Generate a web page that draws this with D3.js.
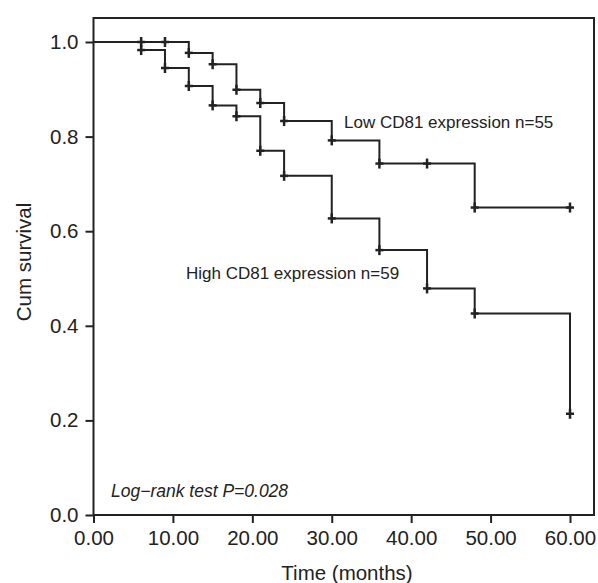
<!DOCTYPE html>
<html>
<head>
<meta charset="utf-8">
<script src="https://cdn.jsdelivr.net/npm/d3@7"></script>
<style>
  body { margin: 0; background: #fff; }
  text { font-family: "Liberation Sans", Arial, sans-serif; fill: #222; }
</style>
</head>
<body>
<div id="chart"></div>
<script>
var ink = "#222";

// Low CD81 expression (upper curve)
var lowTimes = [0, 12, 15, 18, 21, 24, 30, 36, 48, 60];
var lowSurv = [1.0, 0.977, 0.953, 0.899, 0.871, 0.833, 0.792, 0.743, 0.650, 0.650];
var lowCensor = [6, 9, 12, 15, 18, 21, 24, 30, 36, 42, 48, 60];

// High CD81 expression (lower curve)
var highTimes = [0, 6, 9, 12, 15, 18, 21, 24, 30, 36, 42, 48, 60];
var highSurv = [1.0, 0.983, 0.945, 0.907, 0.866, 0.843, 0.770, 0.717, 0.627, 0.560, 0.479, 0.426, 0.214];
var highCensor = [6, 9, 12, 15, 18, 21, 24, 30, 36, 42, 48, 60];

var xTicks = [0, 10, 20, 30, 40, 50, 60];
var yTicks = [0, 0.2, 0.4, 0.6, 0.8, 1.0];

var width = 598, height = 583;
var mLeft = 93.5, mRight = 594, mTop = 18, mBottom = 515;

var x = d3.scaleLinear().domain([0, 60]).range([mLeft, 570]);
var y = d3.scaleLinear().domain([0, 1]).range([mBottom, 42]);

var svg = d3.select("#chart").append("svg")
    .attr("width", width)
    .attr("height", height);

// frame
svg.append("rect")
    .attr("x", mLeft)
    .attr("y", mTop)
    .attr("width", mRight - mLeft)
    .attr("height", mBottom - mTop)
    .attr("fill", "none")
    .attr("stroke", ink)
    .attr("stroke-width", 2);

var xAxis = svg.append("g")
    .attr("transform", "translate(0," + mBottom + ")")
    .call(d3.axisBottom(x).tickValues(xTicks).tickSize(8).tickPadding(7)
        .tickFormat(d3.format(".2f")));

var yAxis = svg.append("g")
    .attr("transform", "translate(" + mLeft + ",0)")
    .call(d3.axisLeft(y).tickValues(yTicks).tickSize(8).tickPadding(7)
        .tickFormat(d3.format(".1f")));

[xAxis, yAxis].forEach(function(g) {
    g.select(".domain").remove();
    g.selectAll("line").attr("stroke", ink).attr("stroke-width", 2);
    g.selectAll("text")
        .attr("font-size", "20.5px")
        .attr("font-family", "Liberation Sans, Arial, sans-serif")
        .attr("fill", ink);
});

// curves
function survAt(times, surv, t) {
    var i = d3.bisectRight(times, t) - 1;
    return surv[Math.max(0, i)];
}

var line = d3.line()
    .x(function(d) { return x(d[0]); })
    .y(function(d) { return y(d[1]); })
    .curve(d3.curveStepAfter);

function drawCurve(times, surv, censor) {
    var pts = times.map(function(t, i) { return [t, surv[i]]; });
    svg.append("path")
        .datum(pts)
        .attr("d", line)
        .attr("fill", "none")
        .attr("stroke", ink)
        .attr("stroke-width", 2);

    svg.selectAll(null)
        .data(censor)
        .enter().append("line")
        .attr("x1", function(d) { return x(d); })
        .attr("x2", function(d) { return x(d); })
        .attr("y1", function(d) { return y(survAt(times, surv, d)) - 5; })
        .attr("y2", function(d) { return y(survAt(times, surv, d)) + 5; })
        .attr("stroke", ink)
        .attr("stroke-width", 2.5);

    svg.selectAll(null)
        .data(censor)
        .enter().append("line")
        .attr("x1", function(d) { return x(d) - 4; })
        .attr("x2", function(d) { return x(d) + 4; })
        .attr("y1", function(d) { return y(survAt(times, surv, d)); })
        .attr("y2", function(d) { return y(survAt(times, surv, d)); })
        .attr("stroke", ink)
        .attr("stroke-width", 2.5);
}

drawCurve(lowTimes, lowSurv, lowCensor);
drawCurve(highTimes, highSurv, highCensor);

// labels
svg.append("text")
    .attr("x", 344)
    .attr("y", 128)
    .attr("font-size", "17px")
    .text("Low CD81 expression n=55");

svg.append("text")
    .attr("x", 186)
    .attr("y", 279)
    .attr("font-size", "17px")
    .text("High CD81 expression n=59");

svg.append("text")
    .attr("x", 111)
    .attr("y", 497)
    .attr("font-size", "17.5px")
    .attr("font-style", "italic")
    .text("Log\u2212rank test P=0.028");

svg.append("text")
    .attr("x", 347)
    .attr("y", 580)
    .attr("text-anchor", "middle")
    .attr("font-size", "20.5px")
    .text("Time (months)");

svg.append("text")
    .attr("transform", "translate(31,262) rotate(-90)")
    .attr("text-anchor", "middle")
    .attr("font-size", "20.5px")
    .text("Cum survival");
</script>
</body>
</html>
